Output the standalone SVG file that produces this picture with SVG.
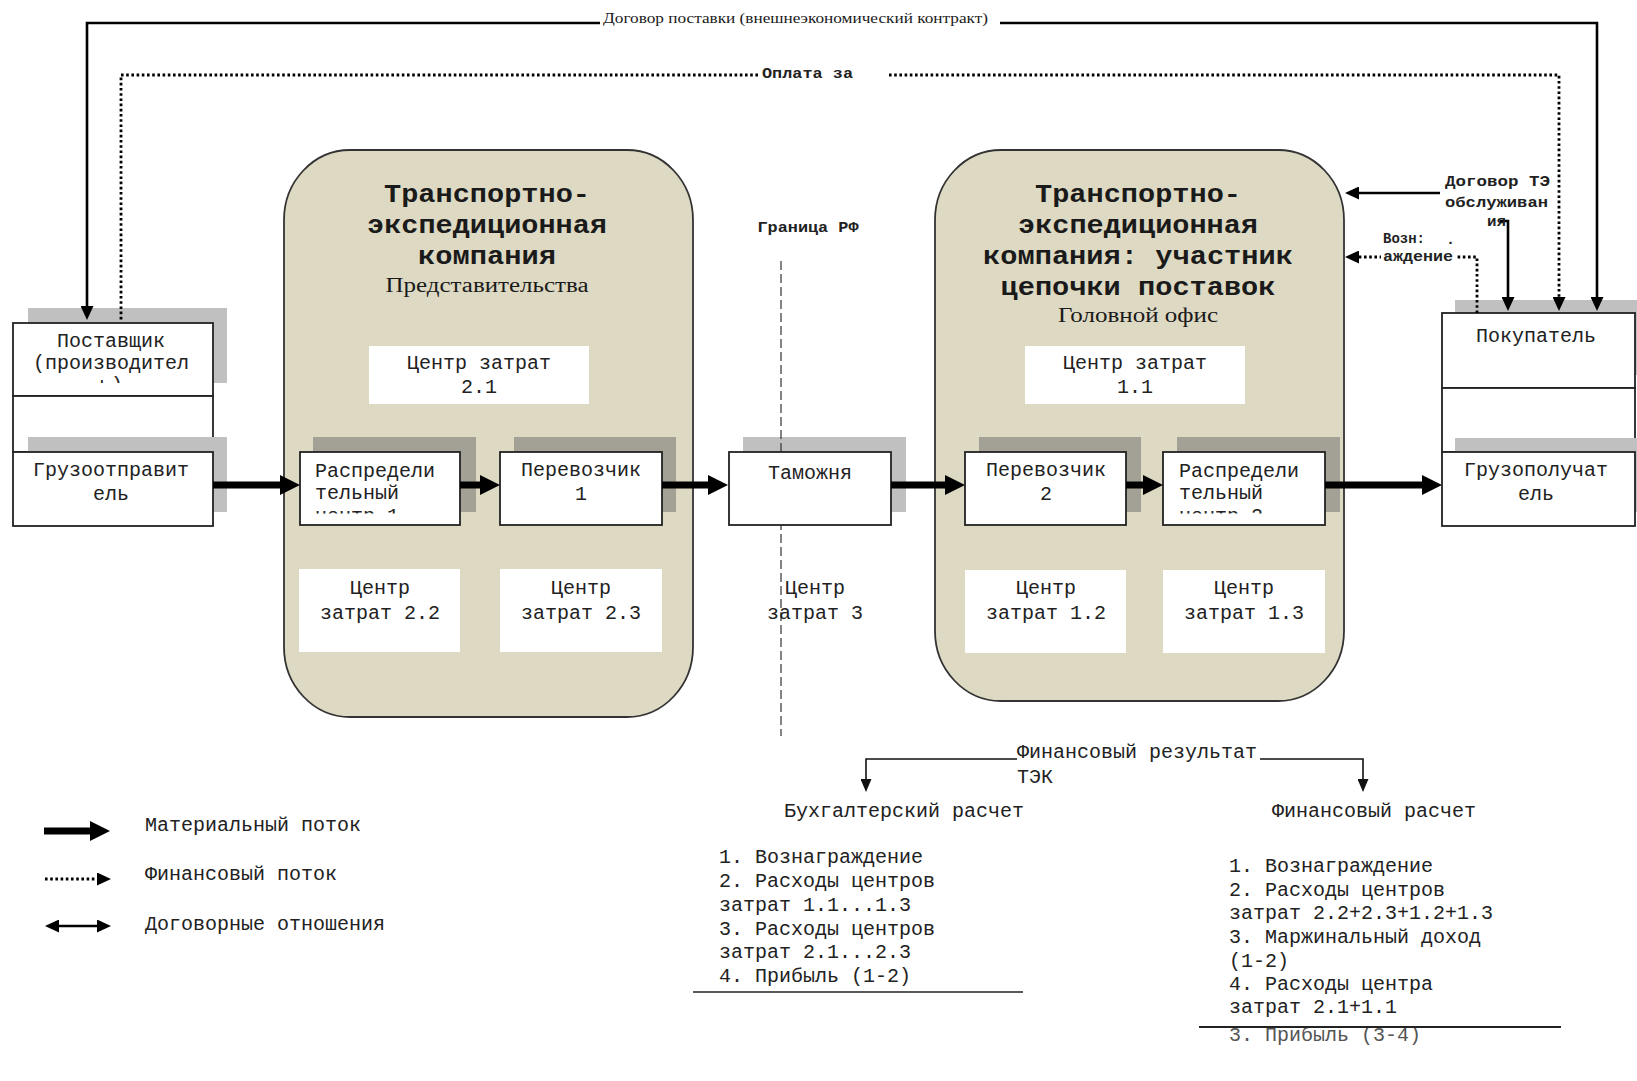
<svg xmlns="http://www.w3.org/2000/svg" width="1637" height="1081" viewBox="0 0 1637 1081">
<style>
.mono{font-family:"Liberation Mono","DejaVu Sans Mono",monospace;font-size:20px;fill:#222;dominant-baseline:central}
.title{font-family:"Liberation Mono","DejaVu Sans Mono",monospace;font-size:26px;font-weight:bold;fill:#1a1a1a;dominant-baseline:central}
.serif{font-family:"Liberation Serif","DejaVu Serif",serif;fill:#1a1a1a;dominant-baseline:central}
.small{font-family:"Liberation Mono","DejaVu Sans Mono",monospace;font-size:15px;font-weight:bold;fill:#222;dominant-baseline:central}
.tec{fill:#DDD9C3;stroke:#333;stroke-width:1.8}
.box{fill:#fff;stroke:#222;stroke-width:1.8}
.cc{fill:#fff}
.sh{fill:#c0c0c0}
.shd{fill:#a3a196}
.mid{text-anchor:middle}
.thick{stroke:#000;stroke-width:7;fill:none}
.solid{stroke:#000;stroke-width:2.6;fill:none}
.dot{stroke:#000;stroke-width:2.8;fill:none;stroke-dasharray:2.6 2.6}
.thin{stroke:#111;stroke-width:1.6;fill:none}
</style>
<defs>
<marker id="mThick" viewBox="0 0 20 20" refX="0" refY="10" markerWidth="20" markerHeight="20" markerUnits="userSpaceOnUse" orient="auto"><path d="M0,0 L20,10 L0,20 z" fill="#000"/></marker>
<marker id="mThin" viewBox="0 0 14 13" refX="0" refY="6.5" markerWidth="14" markerHeight="13" markerUnits="userSpaceOnUse" orient="auto-start-reverse"><path d="M0,0 L14,6.5 L0,13 z" fill="#000"/></marker>
<marker id="mSmall" viewBox="0 0 13 11" refX="0" refY="5.5" markerWidth="13" markerHeight="11" markerUnits="userSpaceOnUse" orient="auto"><path d="M0,0 L13,5.5 L0,11 z" fill="#111"/></marker>
<clipPath id="clipSup"><rect x="13" y="323" width="200" height="60"/></clipPath>
<clipPath id="clipD1"><rect x="300" y="451" width="160" height="62.5"/></clipPath>
<clipPath id="clipD2"><rect x="1163" y="451" width="162" height="62.5"/></clipPath>
</defs>

<!-- TEC representative (left) -->
<g id="tec-rep">
<rect class="tec" x="284" y="150" width="409" height="567" rx="66" ry="70"/>
<text class="title mid" x="487" y="195" textLength="206" lengthAdjust="spacingAndGlyphs">Транспортно-</text>
<text class="title mid" x="487" y="226" textLength="240" lengthAdjust="spacingAndGlyphs">экспедиционная</text>
<text class="title mid" x="487" y="257" textLength="138" lengthAdjust="spacingAndGlyphs">компания</text>
<text class="serif mid" x="487" y="285" font-size="20" textLength="203" lengthAdjust="spacingAndGlyphs">Представительства</text>
</g>

<!-- TEC head office (right) -->
<g id="tec-head">
<rect class="tec" x="935" y="150" width="409" height="551" rx="66" ry="70"/>
<text class="title mid" x="1138" y="195" textLength="206" lengthAdjust="spacingAndGlyphs">Транспортно-</text>
<text class="title mid" x="1138" y="226" textLength="240" lengthAdjust="spacingAndGlyphs">экспедиционная</text>
<text class="title mid" x="1138" y="257" textLength="310" lengthAdjust="spacingAndGlyphs">компания: участник</text>
<text class="title mid" x="1138" y="288" textLength="275" lengthAdjust="spacingAndGlyphs">цепочки поставок</text>
<text class="serif mid" x="1138" y="315" font-size="20" textLength="160" lengthAdjust="spacingAndGlyphs">Головной офис</text>
</g>

<g id="cc-2-1"><rect class="cc" x="369" y="346" width="220" height="58"/>
<text class="mono mid" x="479" y="363">Центр затрат</text><text class="mono mid" x="479" y="387">2.1</text></g>
<g id="cc-1-1"><rect class="cc" x="1025" y="346" width="220" height="58"/>
<text class="mono mid" x="1135" y="363">Центр затрат</text><text class="mono mid" x="1135" y="387">1.1</text></g>
<g id="cc-2-2"><rect class="cc" x="299" y="569" width="161" height="83"/>
<text class="mono mid" x="380" y="588">Центр</text><text class="mono mid" x="380" y="613">затрат 2.2</text></g>
<g id="cc-2-3"><rect class="cc" x="500" y="569" width="162" height="83"/>
<text class="mono mid" x="581" y="588">Центр</text><text class="mono mid" x="581" y="613">затрат 2.3</text></g>
<g id="cc-1-2"><rect class="cc" x="965" y="570" width="161" height="83"/>
<text class="mono mid" x="1046" y="588">Центр</text><text class="mono mid" x="1046" y="613">затрат 1.2</text></g>
<g id="cc-1-3"><rect class="cc" x="1163" y="570" width="162" height="83"/>
<text class="mono mid" x="1244" y="588">Центр</text><text class="mono mid" x="1244" y="613">затрат 1.3</text></g>

<!-- Supplier / Shipper -->
<g id="supplier">
<rect class="sh" x="28" y="308" width="199" height="75"/>
<rect class="box" x="13" y="323" width="200" height="73"/>
<g clip-path="url(#clipSup)">
<text class="mono mid" x="111" y="341">Поставщик</text>
<text class="mono mid" x="111" y="363">(производител</text>
<text class="mono mid" x="111" y="385">ь)</text>
</g>
<rect class="box" x="13" y="396" width="200" height="56"/>
</g>
<g id="shipper">
<rect class="sh" x="28" y="437" width="199" height="75"/>
<rect class="box" x="13" y="452" width="200" height="74"/>
<text class="mono mid" x="111" y="470">Грузоотправит</text>
<text class="mono mid" x="111" y="494">ель</text>
</g>

<!-- Buyer / Consignee -->
<g id="buyer">
<rect class="sh" x="1455" y="300" width="182" height="75"/>
<rect class="box" x="1442" y="313" width="193" height="75"/>
<text class="mono mid" x="1536" y="336">Покупатель</text>
<rect class="box" x="1442" y="388" width="193" height="64"/>
</g>
<g id="consignee">
<rect class="sh" x="1455" y="438" width="182" height="74"/>
<rect class="box" x="1442" y="452" width="193" height="74"/>
<text class="mono mid" x="1536" y="470">Грузополучат</text>
<text class="mono mid" x="1536" y="494">ель</text>
</g>

<!-- Distribution centre 1 -->
<g id="dc1">
<rect class="shd" x="313" y="437" width="163" height="75"/>
<rect class="box" x="300" y="452" width="160" height="73"/>
<g clip-path="url(#clipD1)">
<text class="mono" x="315" y="471">Распредели</text>
<text class="mono" x="315" y="493">тельный</text>
<text class="mono" x="315" y="516">центр 1</text>
</g>
</g>
<!-- Carrier 1 -->
<g id="carrier1">
<rect class="shd" x="514" y="437" width="162" height="75"/>
<rect class="box" x="500" y="452" width="162" height="73"/>
<text class="mono mid" x="581" y="470">Перевозчик</text>
<text class="mono mid" x="581" y="494">1</text>
</g>

<!-- Customs shadow, border line, customs box -->
<g id="customs-shadow"><rect class="sh" x="743" y="437" width="163" height="75"/></g>
<g id="border">
<line x1="781" y1="261" x2="781" y2="736" stroke="#333" stroke-width="1.2" stroke-dasharray="9 4"/>
<text class="small mid" x="808" y="228" font-size="14" textLength="101" lengthAdjust="spacingAndGlyphs">Граница РФ</text>
<text class="mono mid" x="815" y="588">Центр</text>
<text class="mono mid" x="815" y="613">затрат 3</text>
</g>
<g id="customs">
<rect class="box" x="729" y="452" width="162" height="73"/>
<text class="mono mid" x="810" y="473">Таможня</text>
</g>

<!-- Carrier 2 -->
<g id="carrier2">
<rect class="shd" x="979" y="437" width="162" height="75"/>
<rect class="box" x="965" y="452" width="161" height="73"/>
<text class="mono mid" x="1046" y="470">Перевозчик</text>
<text class="mono mid" x="1046" y="494">2</text>
</g>
<!-- Distribution centre 2 -->
<g id="dc2">
<rect class="shd" x="1177" y="437" width="163" height="75"/>
<rect class="box" x="1163" y="452" width="162" height="73"/>
<g clip-path="url(#clipD2)">
<text class="mono" x="1179" y="471">Распредели</text>
<text class="mono" x="1179" y="493">тельный</text>
<text class="mono" x="1179" y="516">центр 2</text>
</g>
</g>

<!-- Connectors -->
<g id="connectors">
<path class="thick" d="M213 485 H280" marker-end="url(#mThick)"/>
<path class="thick" d="M460 485 H480" marker-end="url(#mThick)"/>
<path class="thick" d="M662 485 H708" marker-end="url(#mThick)"/>
<path class="thick" d="M891 485 H945" marker-end="url(#mThick)"/>
<path class="thick" d="M1126 485 H1143" marker-end="url(#mThick)"/>
<path class="thick" d="M1325 485 H1422" marker-end="url(#mThick)"/>

<path class="solid" d="M600 23 H87 V306" marker-end="url(#mThin)"/>
<path class="solid" d="M1000 23 H1597 V297" marker-end="url(#mThin)"/>
<path class="dot" d="M758 75 H121 V321"/>
<path class="dot" d="M889 75 H1559 V297" marker-end="url(#mThin)"/>
<path class="solid" d="M1440 193 H1359" marker-end="url(#mThin)"/>
<path class="solid" d="M1500 221 H1508 V297" marker-end="url(#mThin)"/>
<path class="dot" d="M1477 313 V257 H1359" marker-end="url(#mThin)"/>

<path class="thin" d="M1017 759 H866 V779" marker-end="url(#mSmall)"/>
<path class="thin" d="M1260 759 H1363 V779" marker-end="url(#mSmall)"/>
</g>

<!-- Connector labels -->
<g id="labels">
<text class="serif" x="603" y="18" font-size="15" textLength="385" lengthAdjust="spacingAndGlyphs">Договор поставки (внешнеэкономический контракт)</text>
<text class="small" x="762" y="74" textLength="91" lengthAdjust="spacingAndGlyphs">Оплата за</text>
<text class="small" x="1445" y="182" textLength="105" lengthAdjust="spacingAndGlyphs">Договор ТЭ</text>
<text class="small" x="1445" y="203" textLength="103" lengthAdjust="spacingAndGlyphs">обслуживан</text>
<text class="small" x="1487" y="222" textLength="19" lengthAdjust="spacingAndGlyphs">ия</text>
<text class="small" x="1383" y="239" font-size="14" textLength="42" lengthAdjust="spacingAndGlyphs">Возн:</text>
<text class="small" x="1446" y="240" font-size="14">.</text>
<rect x="1381" y="249" width="74" height="16" fill="#fff"/>
<text class="small" x="1383" y="257" font-size="14" textLength="70" lengthAdjust="spacingAndGlyphs">аждение</text>
</g>

<!-- Legend -->
<g id="legend">
<path class="thick" d="M44 831 H90" marker-end="url(#mThick)"/>
<text class="mono" x="145" y="825">Материальный поток</text>
<path class="dot" d="M45 879 H97" marker-end="url(#mThin)"/>
<text class="mono" x="145" y="874">Финансовый поток</text>
<path class="solid" d="M59 926 H97" stroke-width="3" marker-start="url(#mThin)" marker-end="url(#mThin)"/>
<text class="mono" x="145" y="924">Договорные отношения</text>
</g>

<!-- Financial result -->
<g id="fin-result">
<text class="mono" x="1017" y="752">Финансовый результат</text>
<text class="mono" x="1017" y="777">ТЭК</text>
</g>
<g id="accounting">
<text class="mono" x="784" y="811">Бухгалтерский расчет</text>
<text class="mono" x="719" y="857">1. Вознаграждение</text>
<text class="mono" x="719" y="881">2. Расходы центров</text>
<text class="mono" x="719" y="905">затрат 1.1...1.3</text>
<text class="mono" x="719" y="929">3. Расходы центров</text>
<text class="mono" x="719" y="952">затрат 2.1...2.3</text>
<text class="mono" x="719" y="976">4. Прибыль (1-2)</text>
<line x1="693" y1="992" x2="1023" y2="992" stroke="#222" stroke-width="1.6"/>
</g>
<g id="financial">
<text class="mono" x="1272" y="811">Финансовый расчет</text>
<text class="mono" x="1229" y="866">1. Вознаграждение</text>
<text class="mono" x="1229" y="890">2. Расходы центров</text>
<text class="mono" x="1229" y="913">затрат 2.2+2.3+1.2+1.3</text>
<text class="mono" x="1229" y="937">3. Маржинальный доход</text>
<text class="mono" x="1229" y="961">(1-2)</text>
<text class="mono" x="1229" y="984">4. Расходы центра</text>
<text class="mono" x="1229" y="1007">затрат 2.1+1.1</text>
<text class="mono" x="1229" y="1035" style="fill:#555">3. Прибыль (3-4)</text>
<line x1="1199" y1="1027" x2="1561" y2="1027" stroke="#222" stroke-width="1.8"/>
</g>
</svg>
